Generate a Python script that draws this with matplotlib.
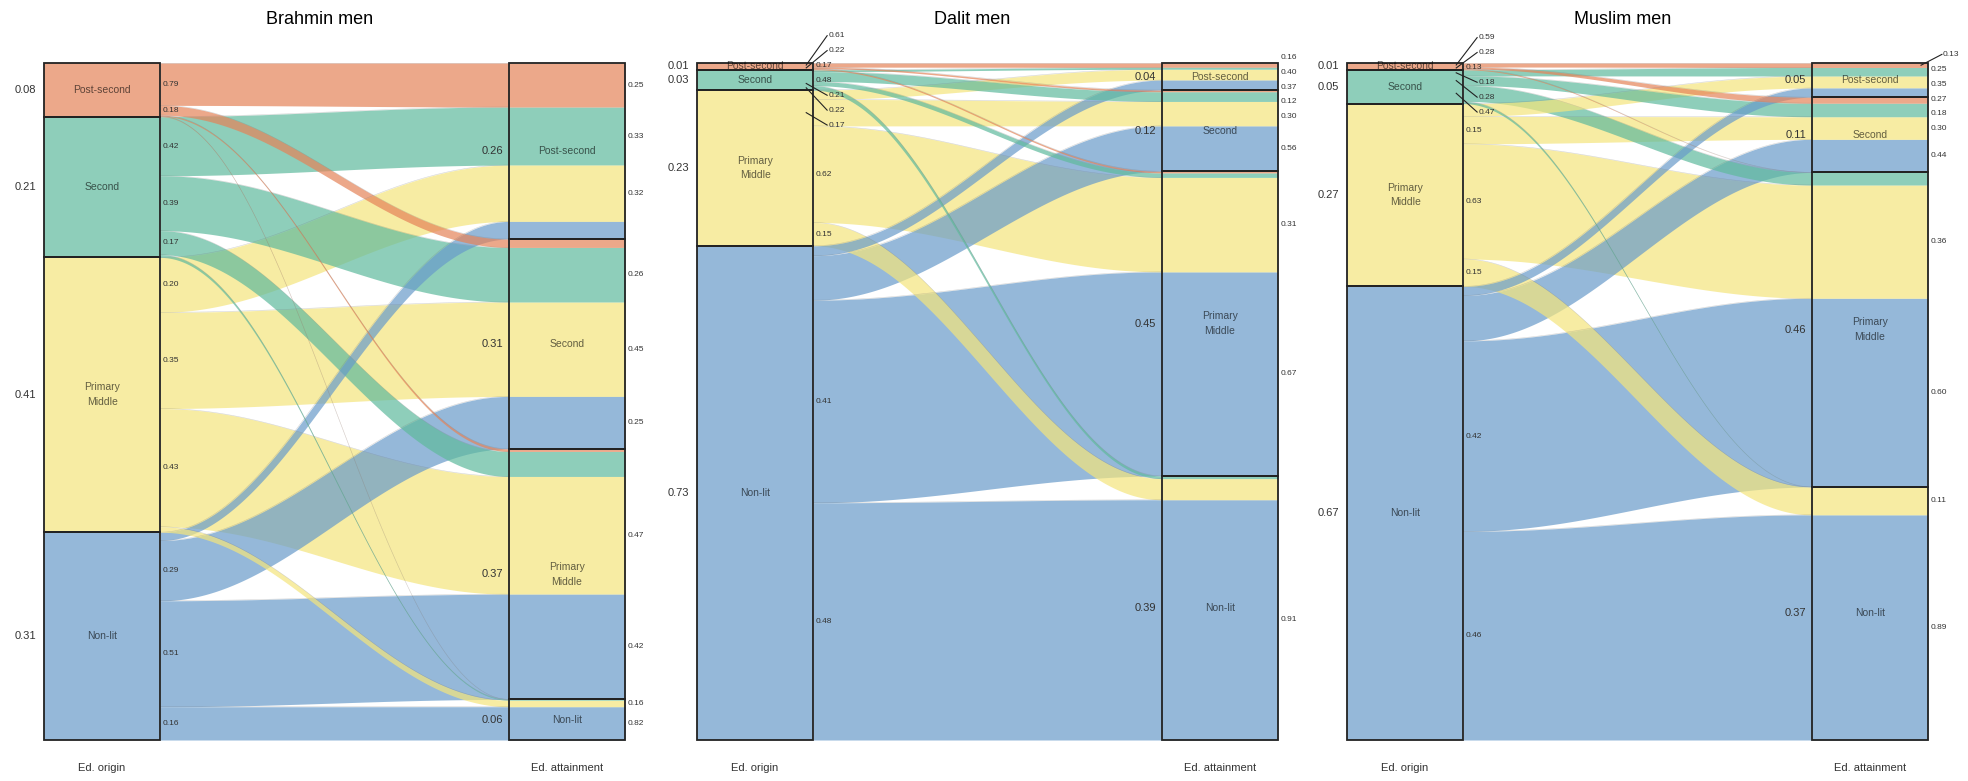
import numpy as np
import matplotlib.pyplot as plt
from matplotlib.patches import Rectangle

plt.rcParams['font.family'] = ['Liberation Sans', 'DejaVu Sans']

levels = ['Post-second', 'Second', 'Primary\nMiddle', 'Non-lit']
colors = ['#E58358', '#5FBA9D', '#F4E57C', '#689BCA']
groups = ['Brahmin men', 'Dalit men', 'Muslim men']

# share of each group by education of origin and by own attainment
brahmin_origin = [0.08, 0.21, 0.41, 0.31]
brahmin_dest = [0.26, 0.31, 0.37, 0.06]
dalit_origin = [0.01, 0.03, 0.23, 0.73]
dalit_dest = [0.04, 0.12, 0.45, 0.39]
muslim_origin = [0.01, 0.05, 0.27, 0.67]
muslim_dest = [0.05, 0.11, 0.46, 0.37]

# rows = origin, cols = attainment: where each origin group ends up
brahmin_out = [[0.79, 0.18, 0.02, 0.01],
               [0.42, 0.39, 0.17, 0.02],
               [0.20, 0.35, 0.43, 0.02],
               [0.04, 0.29, 0.51, 0.16]]
dalit_out = [[0.61, 0.22, 0.17, 0.00],
             [0.09, 0.48, 0.21, 0.22],
             [0.06, 0.17, 0.62, 0.15],
             [0.02, 0.09, 0.41, 0.48]]
muslim_out = [[0.59, 0.28, 0.13, 0.00],
              [0.18, 0.28, 0.47, 0.07],
              [0.07, 0.15, 0.63, 0.15],
              [0.02, 0.10, 0.42, 0.46]]

# rows = origin, cols = attainment: where each attainment group came from
brahmin_in = [[0.25, 0.04, 0.01, 0.00],
              [0.33, 0.26, 0.10, 0.02],
              [0.32, 0.45, 0.47, 0.16],
              [0.10, 0.25, 0.42, 0.82]]
dalit_in = [[0.16, 0.02, 0.005, 0.00],
            [0.07, 0.12, 0.015, 0.01],
            [0.40, 0.30, 0.31, 0.08],
            [0.37, 0.56, 0.67, 0.91]]
muslim_in = [[0.13, 0.08, 0.00, 0.00],
             [0.25, 0.18, 0.04, 0.00],
             [0.35, 0.30, 0.36, 0.11],
             [0.27, 0.44, 0.60, 0.89]]

panels = [(brahmin_origin, brahmin_dest, brahmin_out, brahmin_in),
          (dalit_origin, dalit_dest, dalit_out, dalit_in),
          (muslim_origin, muslim_dest, muslim_out, muslim_in)]

ALPHA = 0.7
MIN_LABEL = 0.11


def s_curve(t):
    return 0.5 - 0.5 * np.cos(np.pi * t)


def spread(ys, gap):
    # push overlapping labels apart, keeping them centred on their anchors
    ys = np.asarray(ys, float)
    order = np.argsort(ys)
    pos = ys[order].copy()
    for _ in range(500):
        moved = False
        for k in range(1, len(pos)):
            d = pos[k] - pos[k - 1]
            if d < gap - 1e-9:
                sh = (gap - d) / 2
                pos[k - 1] -= sh
                pos[k] += sh
                moved = True
        if not moved:
            break
    out = np.empty_like(pos)
    out[order] = pos
    return out


def rate_labels(ax, edge, anchors, values):
    if not anchors:
        return
    ys = spread(anchors, 0.022)
    for a, y, v in zip(anchors, ys, values):
        if abs(y - a) > 0.012:
            ax.plot([edge - 0.06, edge + 0.12], [a, y], color='#222222', lw=0.8)
            ax.text(edge + 0.13, y, f'{v:.2f}', fontsize=6, color='#333333',
                    ha='left', va='center')
        else:
            ax.text(edge + 0.02, y, f'{v:.2f}', fontsize=6, color='#333333',
                    ha='left', va='center')


fig = plt.figure(figsize=(19.68, 7.81), dpi=100)
unit = 116.2
box_left_px = [44, 697, 1347]
t = np.linspace(0, 1, 150)
xs = np.concatenate([1 + 3 * t, [5]])

for title, px, (origin, dest, out_rate, in_share) in zip(groups, box_left_px, panels):
    ax = fig.add_axes([(px - 0.35 * unit) / 1968, 0, 5.8 * unit / 1968, 1])
    ax.set_xlim(-0.35, 5.45)
    ax.set_ylim((781 - 63) / 677, -63 / 677)
    ax.axis('off')

    o = np.array(origin)
    d = np.array(dest)
    # rounded shares don't add to exactly 1, so each column is stretched to full height
    o_h = o / o.sum()
    d_h = d / d.sum()
    lw_ = o_h[:, None] * np.array(out_rate)
    rw_ = d_h[None, :] * np.array(in_share)
    o_top = np.concatenate([[0], np.cumsum(o_h)[:-1]])
    d_top = np.concatenate([[0], np.cumsum(d_h)[:-1]])
    l_y0 = o_top[:, None] + np.cumsum(lw_, axis=1) - lw_
    r_y0 = d_top[None, :] + np.cumsum(rw_, axis=0) - rw_

    pairs = [(i, j) for i in range(4) for j in range(4) if lw_[i, j] + rw_[i, j] > 0]
    pairs.sort(key=lambda p: -(lw_[p] + rw_[p]))
    s = s_curve(t)
    for i, j in pairs:
        a0, a1 = l_y0[i, j], l_y0[i, j] + lw_[i, j]
        b0, b1 = r_y0[i, j], r_y0[i, j] + rw_[i, j]
        top = np.concatenate([a0 + (b0 - a0) * s, [b0]])
        bot = np.concatenate([a1 + (b1 - a1) * s, [b1]])
        ax.fill_between(xs, top, bot, color=colors[i], alpha=ALPHA, lw=0)
        ax.plot(xs[:-1], top[:-1], color='0.45', lw=0.4, alpha=0.3)

    # origin boxes
    for i in range(4):
        ax.add_patch(Rectangle((0, o_top[i]), 1, o_h[i], facecolor=colors[i],
                               alpha=ALPHA, lw=0))
        ax.add_patch(Rectangle((0, o_top[i]), 1, o_h[i], fill=False,
                               edgecolor='#222222', lw=1.3, zorder=5))
        yc = o_top[i] + o_h[i] / 2
        ax.text(0.5, yc, levels[i], fontsize=7.5, ha='center', va='center',
                color='black', alpha=0.6, zorder=6, linespacing=1.6)
        ax.text(-0.07, yc, f'{o[i]:.2f}', fontsize=8, ha='right', va='center',
                color='#333333')

    # attainment boxes
    for j in range(4):
        ax.add_patch(Rectangle((4, d_top[j]), 1, d_h[j], fill=False,
                               edgecolor='#222222', lw=1.3, zorder=5))
        yc = d_top[j] + d_h[j] / 2
        ax.text(4.5, yc, levels[j], fontsize=7.5, ha='center', va='center',
                color='black', alpha=0.6, zorder=6, linespacing=1.6)
        ax.text(3.95, yc, f'{d[j]:.2f}', fontsize=8, ha='right', va='center',
                color='#333333', zorder=6)

    # outflow rates on the origin side, inflow shares on the attainment side
    anchors, vals = [], []
    for i in range(4):
        for j in range(4):
            if out_rate[i][j] >= MIN_LABEL:
                anchors.append(l_y0[i, j] + lw_[i, j] / 2)
                vals.append(out_rate[i][j])
    rate_labels(ax, 1.0, anchors, vals)

    anchors, vals = [], []
    for j in range(4):
        for i in range(4):
            if in_share[i][j] >= MIN_LABEL:
                anchors.append(r_y0[i, j] + rw_[i, j] / 2)
                vals.append(in_share[i][j])
    rate_labels(ax, 5.0, anchors, vals)

    ax.text(2.37, -43 / 677, title, fontsize=13, ha='center', va='center')
    ax.text(0.5, 705 / 677, 'Ed. origin', fontsize=8, ha='center', va='center',
            color='#333333')
    ax.text(4.5, 705 / 677, 'Ed. attainment', fontsize=8, ha='center',
            va='center', color='#333333')

fig.savefig('out.png', dpi=100)
